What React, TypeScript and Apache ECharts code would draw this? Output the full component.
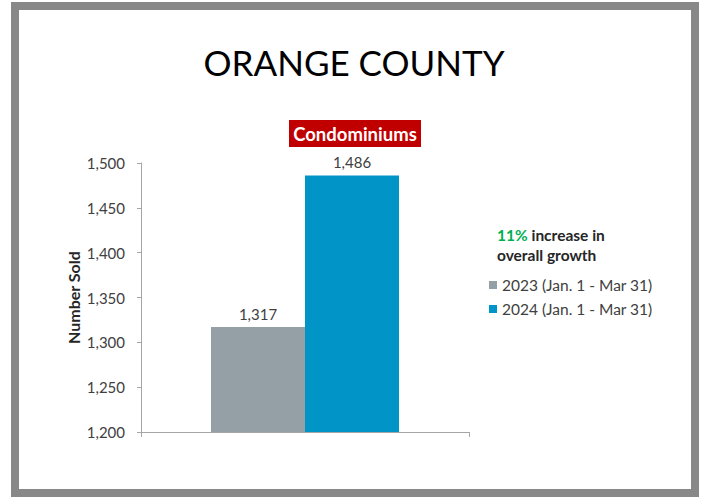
import React, { useEffect, useRef } from "react";
import * as echarts from "echarts";

const categories = [""];
const seriesNames = ["2023 (Jan. 1 - Mar 31)", "2024 (Jan. 1 - Mar 31)"];
const values2023 = [1317];
const values2024 = [1486];
const yTicks = { min: 1200, max: 1500, interval: 50 };
const growthPct = "11%";

const FONT = "Lato, 'Liberation Sans', sans-serif";
const TXT = "#404040";

export default function App() {
  const ref = useRef<HTMLDivElement>(null);
  useEffect(() => {
    if (!ref.current) return;
    const chart = echarts.init(ref.current, null, { renderer: "svg" });
    const fmt = (v: number) => v.toLocaleString("en-US");
    chart.setOption({
      animation: false,
      backgroundColor: "#ffffff",
      textStyle: { fontFamily: FONT },
      grid: { left: 141, right: 235, top: 163, bottom: 65 },
      graphic: [
        {
          type: "rect",
          z: -10,
          silent: true,
          shape: { x: 15, y: 6, width: 680, height: 487 },
          style: { fill: "#ffffff", stroke: "#888888", lineWidth: 8 },
        },
        {
          type: "text",
          x: 354,
          y: 62,
          style: {
            text: "ORANGE COUNTY",
            fill: "#000000",
            font: `35px ${FONT}`,
            align: "center",
            verticalAlign: "middle",
          },
        },
        {
          type: "rect",
          shape: { x: 289, y: 120, width: 132, height: 27 },
          style: { fill: "#C00000" },
        },
        {
          type: "text",
          x: 355,
          y: 134,
          style: {
            text: "Condominiums",
            fill: "#ffffff",
            font: `bold 18.5px ${FONT}`,
            align: "center",
            verticalAlign: "middle",
          },
        },
        {
          type: "text",
          x: 497,
          y: 245,
          style: {
            text: `{g|${growthPct}}{b| increase in}\n{b|overall growth}`,
            verticalAlign: "middle",
            rich: {
              g: { fill: "#00B050", font: `bold 15.5px ${FONT}`, lineHeight: 20 },
              b: { fill: "#262626", font: `bold 15.5px ${FONT}`, lineHeight: 20 },
            },
          },
        },
      ],
      legend: {
        orient: "vertical",
        left: 484,
        top: 272,
        itemWidth: 8,
        itemHeight: 8,
        itemGap: 8,
        icon: "rect",
        textStyle: { fontSize: 15.5, color: TXT, fontFamily: FONT },
        data: seriesNames,
      },
      xAxis: {
        type: "category",
        data: categories,
        axisLine: { show: true, lineStyle: { color: "#A6A6A6", width: 1 } },
        axisTick: { show: true, length: 5, lineStyle: { color: "#A6A6A6" } },
        axisLabel: { show: false },
      },
      yAxis: {
        type: "value",
        min: yTicks.min,
        max: yTicks.max,
        interval: yTicks.interval,
        name: "Number Sold",
        nameLocation: "middle",
        nameRotate: 90,
        nameGap: 60,
        nameTextStyle: { fontSize: 16, fontWeight: "bold", color: "#262626", fontFamily: FONT },
        axisLine: { show: true, lineStyle: { color: "#A6A6A6", width: 1 } },
        axisTick: { show: true, length: 4, lineStyle: { color: "#A6A6A6" } },
        axisLabel: { fontSize: 15, color: TXT, margin: 16, formatter: fmt, fontFamily: FONT },
        splitLine: { show: false },
      },
      series: [
        {
          name: seriesNames[0],
          type: "bar",
          data: values2023,
          barWidth: 94,
          barGap: "0%",
          itemStyle: { color: "#959FA6" },
          label: {
            show: true,
            position: "top",
            distance: 6,
            fontSize: 15,
            color: TXT,
            fontFamily: FONT,
            formatter: (p: any) => fmt(p.value),
          },
        },
        {
          name: seriesNames[1],
          type: "bar",
          data: values2024,
          barWidth: 94,
          barGap: "0%",
          itemStyle: { color: "#0095C6" },
          label: {
            show: true,
            position: "top",
            distance: 6,
            fontSize: 15,
            color: TXT,
            fontFamily: FONT,
            formatter: (p: any) => fmt(p.value),
          },
        },
      ],
    });
    return () => chart.dispose();
  }, []);
  return (
    <div
      ref={ref}
      style={{ position: "fixed", left: 0, top: 0, width: 704, height: 497 }}
    />
  );
}
